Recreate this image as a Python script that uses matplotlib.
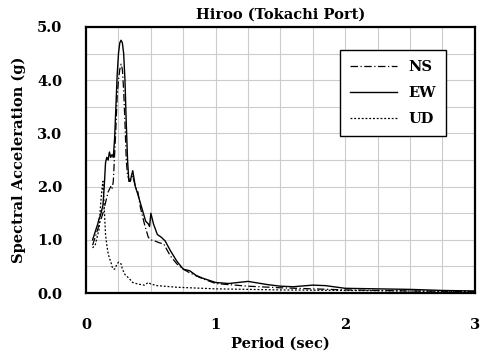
import matplotlib
matplotlib.use("Agg")
import matplotlib.pyplot as plt
from matplotlib.ticker import MultipleLocator

# period (sec) and spectral acceleration (g)
ew_t = [0.05, 0.07, 0.09, 0.10, 0.11, 0.12, 0.13, 0.14, 0.15, 0.16, 0.17, 0.18, 0.19, 0.20,
        0.21, 0.22, 0.23, 0.24, 0.25, 0.26, 0.27, 0.28, 0.29, 0.30, 0.31, 0.32, 0.33, 0.34,
        0.36, 0.38, 0.40, 0.43, 0.46, 0.48, 0.49, 0.50, 0.52, 0.55, 0.58, 0.61, 0.65, 0.70,
        0.75, 0.80, 0.85, 0.90, 0.95, 1.00, 1.10, 1.25, 1.40, 1.50, 1.60, 1.75, 1.85, 2.00,
        2.25, 2.50, 2.75, 3.00]
ew_sa = [1.0, 1.15, 1.3, 1.4, 1.45, 1.55, 1.65, 2.0, 2.45, 2.55, 2.5, 2.65, 2.55, 2.6,
         2.55, 2.9, 3.5, 4.1, 4.5, 4.7, 4.75, 4.7, 4.5, 4.0, 3.2, 2.5, 2.1, 2.1,
         2.3, 2.0, 1.85, 1.6, 1.35, 1.3, 1.25, 1.5, 1.3, 1.1, 1.05, 0.98, 0.8, 0.6,
         0.45, 0.42, 0.33, 0.28, 0.24, 0.2, 0.18, 0.22, 0.16, 0.13, 0.12, 0.15, 0.14, 0.09,
         0.08, 0.07, 0.05, 0.04]

ns_t = [0.05, 0.07, 0.09, 0.11, 0.13, 0.15, 0.17, 0.18, 0.19, 0.20, 0.21, 0.22, 0.23, 0.24,
        0.25, 0.26, 0.27, 0.28, 0.29, 0.30, 0.31, 0.32, 0.34, 0.36, 0.38, 0.40, 0.42, 0.45,
        0.48, 0.50, 0.53, 0.56, 0.60, 0.65, 0.70, 0.75, 0.80, 0.90, 1.00, 1.25, 1.50, 1.75,
        2.00, 2.50, 3.00]
ns_sa = [0.9, 1.05, 1.2, 1.35, 1.5, 1.7, 1.9, 1.95, 2.0, 1.95, 2.1, 2.6, 3.1, 3.7,
         4.0, 4.2, 4.3, 4.2, 3.8, 3.2, 2.5, 2.2, 2.1, 2.2, 2.0, 1.9, 1.6, 1.3,
         1.05, 1.0, 0.98, 0.95, 0.92, 0.7, 0.55, 0.45, 0.38, 0.27, 0.18, 0.13, 0.1, 0.08,
         0.06, 0.04, 0.03]

ud_t = [0.05, 0.07, 0.09, 0.10, 0.11, 0.12, 0.13, 0.14, 0.15, 0.16, 0.17, 0.18, 0.19, 0.20,
        0.21, 0.22, 0.24, 0.25, 0.27, 0.28, 0.30, 0.33, 0.36, 0.40, 0.45, 0.48, 0.50, 0.55,
        0.60, 0.70, 0.80, 1.00, 1.25, 1.50, 2.00, 2.50, 3.00]
ud_sa = [0.85, 0.9, 1.1, 1.2, 1.6, 1.9, 2.1, 1.6, 1.1, 0.9, 0.75, 0.65, 0.6, 0.5,
         0.45, 0.45, 0.55, 0.58, 0.55, 0.45, 0.35, 0.28, 0.2, 0.17, 0.15, 0.2, 0.17, 0.14,
         0.13, 0.11, 0.1, 0.08, 0.07, 0.06, 0.05, 0.04, 0.03]

plt.rcParams['font.family'] = 'DejaVu Serif'
plt.rcParams['font.weight'] = 'bold'

fig = plt.figure(figsize=(4.81, 3.54), dpi=100)
ax = fig.add_axes([0.179, 0.172, 0.808, 0.752])

ax.plot(ns_t, ns_sa, color='black', linewidth=0.9, linestyle=(0, (6, 2, 1, 2)), label='NS')
ax.plot(ew_t, ew_sa, color='black', linewidth=1.0, linestyle='-', label='EW')
ax.plot(ud_t, ud_sa, color='black', linewidth=0.9, linestyle=(0, (1.5, 1.5)), label='UD')

ax.set_xlim(0, 3)
ax.set_ylim(0, 5)
ax.xaxis.set_major_locator(MultipleLocator(1))
ax.xaxis.set_minor_locator(MultipleLocator(0.25))
ax.yaxis.set_major_locator(MultipleLocator(1))
ax.yaxis.set_minor_locator(MultipleLocator(0.5))
ax.yaxis.set_major_formatter(matplotlib.ticker.FormatStrFormatter('%.1f'))
ax.grid(True, which='both', color='#cccccc', linewidth=0.8)
ax.set_axisbelow(True)
ax.tick_params(which='both', length=0, labelsize=10.5)
ax.tick_params(axis='y', pad=17)
ax.tick_params(axis='x', pad=18)
for s in ax.spines.values():
    s.set_linewidth(1.6)

ax.set_title('Hiroo (Tokachi Port)', fontsize=10.5, fontweight='bold', pad=6)
ax.set_xlabel('Period (sec)', fontsize=10.5, fontweight='bold', labelpad=3)
ax.set_ylabel('Spectral Acceleration (g)', fontsize=10.5, fontweight='bold', labelpad=8)

leg = ax.legend(loc='upper right', bbox_to_anchor=(0.945, 0.94), fancybox=False,
                edgecolor='black', framealpha=1, fontsize=10.5, handlelength=3.2,
                borderpad=0.7, labelspacing=0.8)
leg.get_frame().set_linewidth(1.0)

fig.savefig('out.png', dpi=100)
